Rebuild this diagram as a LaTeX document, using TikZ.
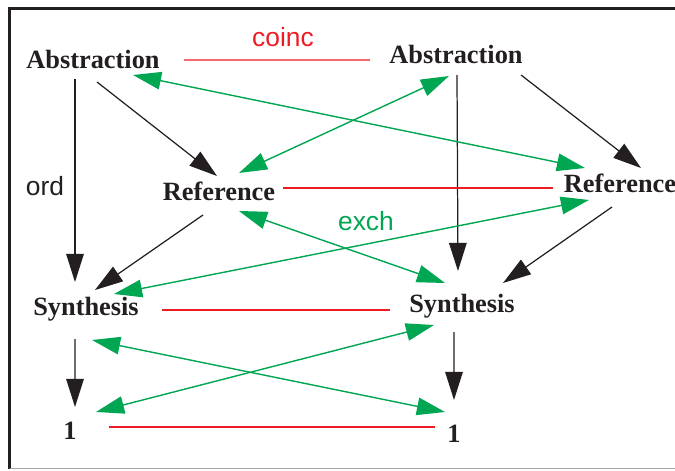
\documentclass[tikz,border=0pt]{standalone}
\usepackage{fontspec}
\setmainfont{Liberation Serif}
\setsansfont{Liberation Sans}
\usepackage{tikz}
\usetikzlibrary{
    arrows.meta,
    calc
}
\definecolor{ink}{RGB}{35,31,32}
\definecolor{cred}{RGB}{237,28,36}
\definecolor{cgreen}{RGB}{0,166,81}
\tikzset{lbl/.style={inner sep=0pt, text=ink, font=\fontsize{15}{18}\selectfont\bfseries}}
\tikzset{tag/.style={inner sep=0pt, font=\fontsize{15}{18}\selectfont\sffamily}}
\tikzset{blka/.style={draw=ink, line width=0.7pt, -{Triangle[length=16pt, width=10pt]}}}
\tikzset{grna/.style={draw=cgreen, line width=0.8pt, {Triangle[length=16pt, width=10pt]}-{Triangle[length=16pt, width=10pt]}}}
\tikzset{redl/.style={draw=cred, line width=0.8pt}}

\begin{document}
\begin{tikzpicture}
                        \useasboundingbox (0, 0) rectangle (13.5, 9.4);
                        \draw[ink, line width=1.7pt] (0.19, 0.03) -- (0.19, 9.23) -- (13.5, 9.23);
                        \draw[gray!70, line width=1pt] (0.19, 0.03) -- (13.5, 0.03);

                        \node[lbl] (absL) at (1.86, 8.22) {Abstraction};
                        \node[lbl] (absR) at (9.12, 8.32) {Abstraction};
                        \node[lbl] (refL) at (4.38, 5.58) {Reference};
                        \node[lbl] (refR) at (12.40, 5.74) {Reference};
                        \node[lbl] (synL) at (1.72, 3.22) {Synthesis};
                        \node[lbl] (synR) at (9.24, 3.28) {Synthesis};
                        \node[lbl] (oneL) at (1.40, 0.78) {1};
                        \node[lbl] (oneR) at (9.08, 0.72) {1};

                        \node[tag, text=cred] (coinc) at (5.66, 8.66) {coinc};
                        \node[tag, text=ink] (ord) at (0.90, 5.68) {ord};
                        \node[tag, text=cgreen] (exch) at (7.32, 4.98) {exch};

                        % ord
                        \draw
                        ([shift={(-0.36,-0.40)}]absL.center) edge[blka] ([shift={(-0.22,0.54)}]synL.center)
                        ([shift={(0.08,-0.46)}]absL.center) edge[blka] ([shift={(-0.04,0.30)}]refL.center)
                        ([shift={(0.02,-0.42)}]absR.center) edge[blka] ([shift={(-0.08,0.70)}]synR.center)
                        ([shift={(1.30,-0.42)}]absR.center) edge[blka] ([shift={(0.42,0.30)}]refR.center)
                        ([shift={(-0.32,-0.48)}]refL.center) edge[blka] ([shift={(0.18,0.38)}]synL.center)
                        ([shift={(-0.16,-0.48)}]refR.center) edge[blka] ([shift={(0.82,0.46)}]synR.center)
                        ([shift={(-0.22,-0.60)}]synL.center) edge[blka] ([shift={(0.10,0.48)}]oneL.center)
                        ([shift={(-0.16,-0.52)}]synR.center) edge[blka] ([shift={(0,0.68)}]oneR.center);

                        % exch
                        \draw
                        ([shift={(0.80,-0.32)}]absL.center) edge[grna] ([shift={(-0.70,0.30)}]refR.center)
                        ([shift={(0.40,0.36)}]refL.center) edge[grna] ([shift={(-0.14,-0.44)}]absR.center)
                        ([shift={(0.40,-0.40)}]refL.center) edge[grna] ([shift={(-0.34,0.46)}]synR.center)
                        ([shift={(0.56,0.30)}]synL.center) edge[grna] ([shift={(-0.62,-0.34)}]refR.center)
                        ([shift={(0.12,-0.62)}]synL.center) edge[grna] ([shift={(-0.18,0.44)}]oneR.center)
                        ([shift={(0.52,0.38)}]oneL.center) edge[grna] ([shift={(-0.56,-0.38)}]synR.center);

                        % coinc
                        \draw
                        ([shift={(1.82,-0.02)}]absL.center) edge[redl] ([shift={(-1.72,-0.12)}]absR.center)
                        ([shift={(1.28,0.06)}]refL.center) edge[redl] ([shift={(-1.34,-0.10)}]refR.center)
                        ([shift={(1.52,-0.02)}]synL.center) edge[redl] ([shift={(-1.44,-0.08)}]synR.center)
                        ([shift={(0.78,0.08)}]oneL.center) edge[redl] ([shift={(-0.38,0.14)}]oneR.center);
                    \end{tikzpicture}
\end{document}
